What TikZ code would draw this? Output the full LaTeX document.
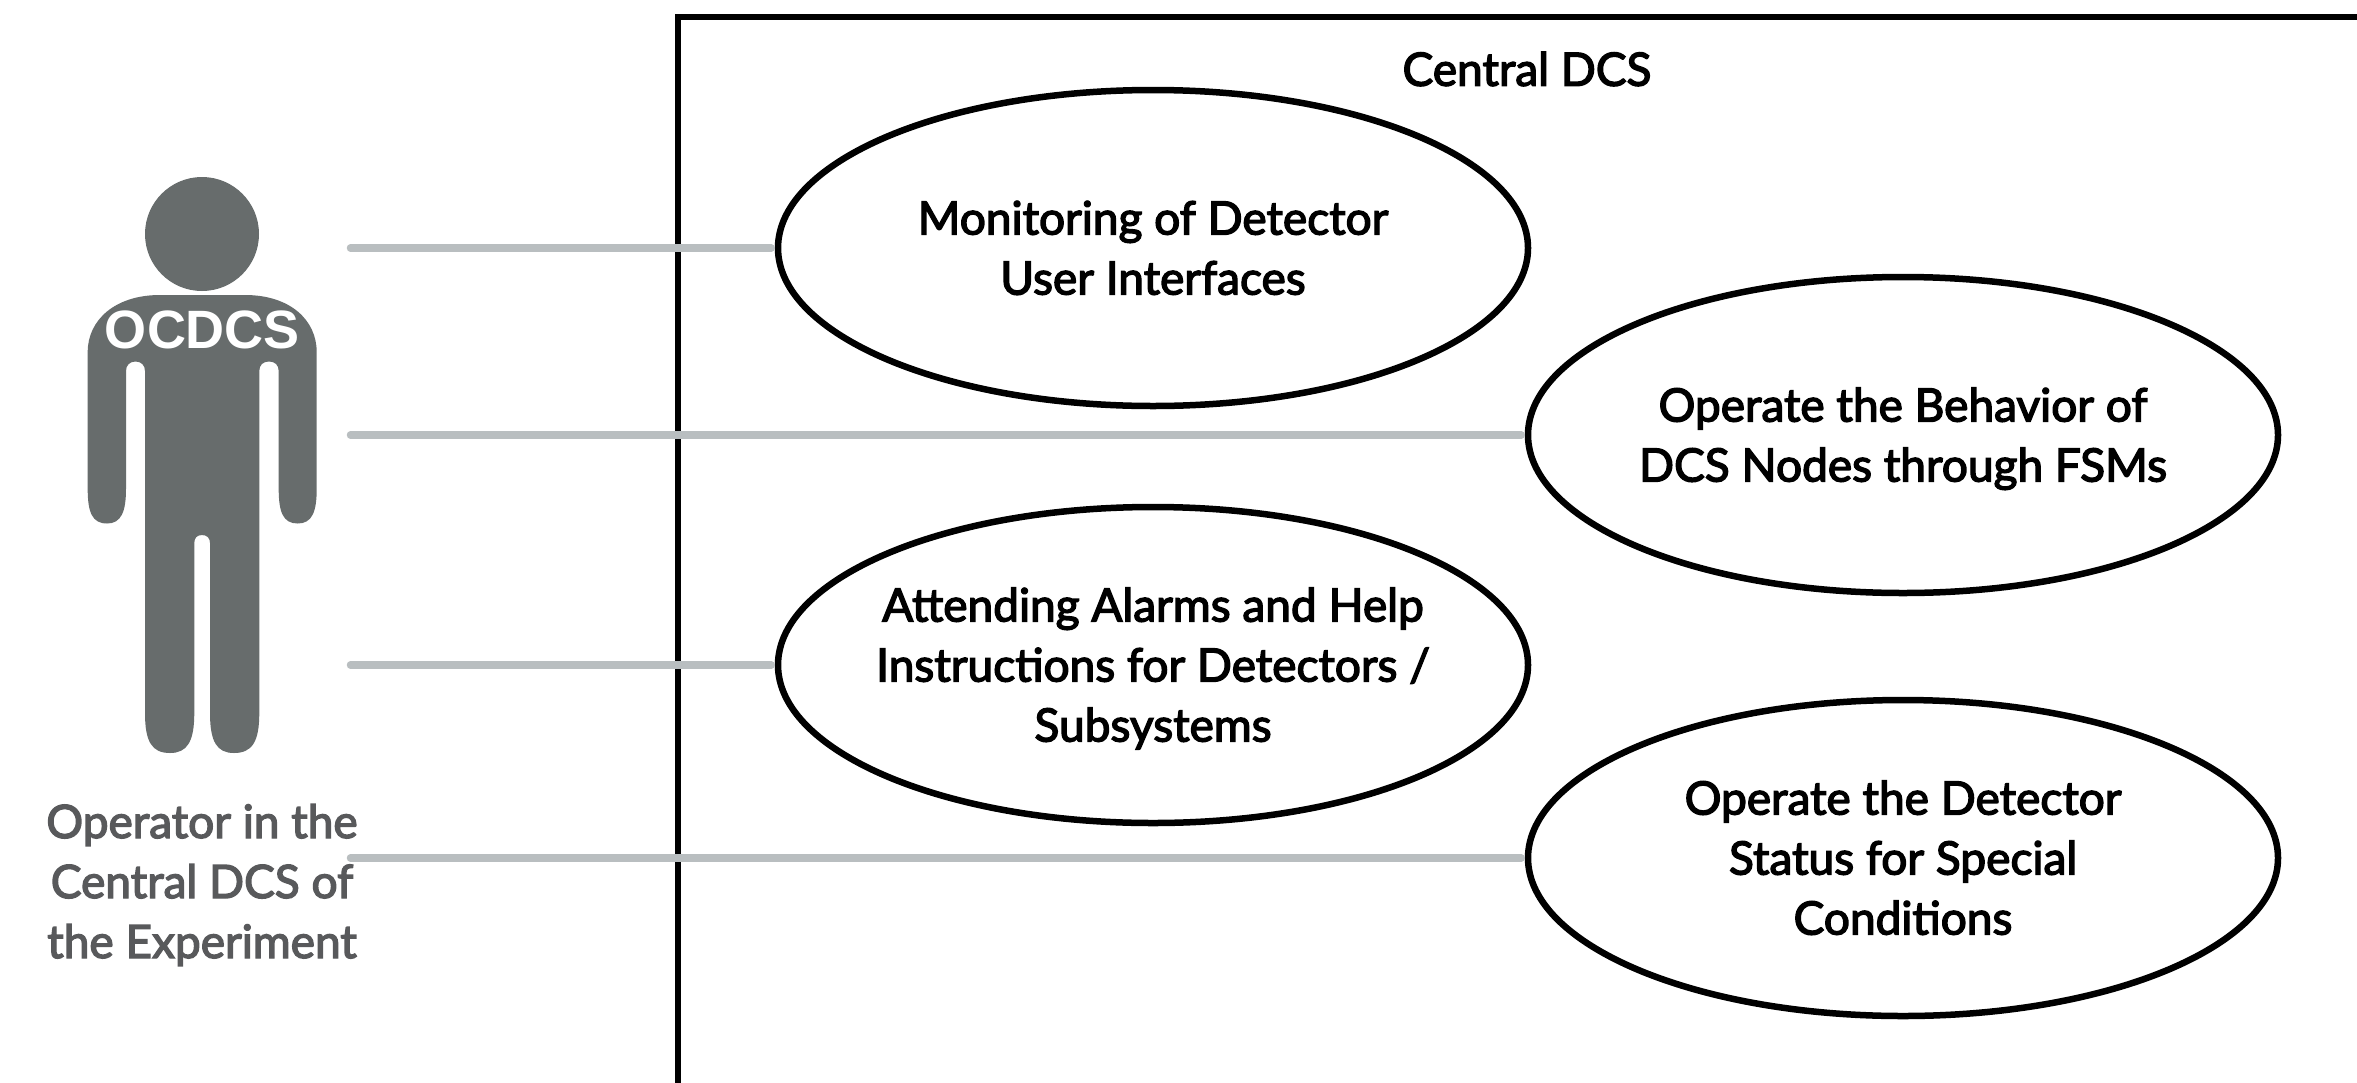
\documentclass[tikz,border=0pt]{standalone}
\usepackage{fontspec}
\setmainfont{Lato}[FakeBold=3]
\newfontfamily\arialb{Liberation Sans Bold}
\usetikzlibrary{shapes.geometric}
\definecolor{figgray}{HTML}{676C6C}
\definecolor{linegray}{HTML}{B9BEC0}
\definecolor{labelgray}{HTML}{58595B}
\newcommand{\lnstrut}{\rule[-9pt]{0pt}{51pt}}
\tikzset{
  usecase/.style={draw=black,line width=6.5pt,fill=white,ellipse,inner ysep=0pt,inner xsep=-15pt,minimum width=750pt,minimum height=316pt,align=center,font=\fontsize{46}{60}\selectfont},
  assoc/.style={draw=linegray,line width=7.5pt,line cap=round,shorten >=3.5pt},
  framebox/.style={draw=black,line width=6pt,line join=miter}
}
\begin{document}
\begin{tikzpicture}[x=1pt,y=-1pt]
\useasboundingbox (0,0) rectangle (2357,1082);
\fill[white] (0,0) rectangle (2357,1082);
\draw[framebox] (678,1090) -- (678,17) -- (2365,17);
% actor
\fill[figgray] (202,234) ellipse [x radius=57,y radius=57];
\fill[figgray] (160,295) -- (245,295)
  .. controls (290,295) and (316.7,320) .. (316.7,352)
  -- (316.7,489) .. controls (316.7,512) and (312,523.5) .. (297.7,523.5)
  .. controls (283,523.5) and (278.7,512) .. (278.7,489)
  -- (278.7,371) .. controls (278.7,365) and (275,361.5) .. (269,361.5)
  .. controls (263,361.5) and (259.3,365) .. (259.3,371)
  -- (259.3,713) .. controls (259.3,742) and (252,753) .. (234,753)
  .. controls (217,753) and (210,742) .. (210,713)
  -- (210,543) .. controls (210,538) and (207,535) .. (202,535)
  .. controls (197,535) and (194.3,538) .. (194.3,543)
  -- (194.3,713) .. controls (194.3,742) and (187,753) .. (170,753)
  .. controls (152,753) and (145,742) .. (145,713)
  -- (145,371) .. controls (145,365) and (141,361.5) .. (135.5,361.5)
  .. controls (130,361.5) and (126,365) .. (126,371)
  -- (126,489) .. controls (126,512) and (121,523.5) .. (107,523.5)
  .. controls (92,523.5) and (87.7,512) .. (87.7,489)
  -- (87.7,352) .. controls (87.7,320) and (115,295) .. (160,295) -- cycle;
\node[text=white,inner sep=0pt,anchor=base,font=\arialb\fontsize{54}{54}\selectfont] (ocdcs) at (202.5,348) {OCDCS};
\node[text=labelgray,inner sep=0pt,anchor=base,align=center,font=\fontsize{46}{60}\selectfont] (oplabel) at (202,958) {Operator in the\\Central DCS of\\the Experiment};
\node[inner sep=0pt,font=\fontsize{46}{60}\selectfont] (central) at (1527,69) {Central DCS};
% free ends of the associations
\coordinate (a1) at (350.5,248);
\coordinate (a2) at (350.5,435);
\coordinate (a3) at (350.5,665);
\coordinate (a4) at (350.5,858);
% use cases
\node[usecase] (uc1) at (1153,248) {\lnstrut Monitoring of Detector\\\lnstrut User Interfaces};
\node[usecase] (uc2) at (1903,435) {\lnstrut Operate the Behavior of\\\lnstrut DCS Nodes through FSMs};
\node[usecase] (uc3) at (1153,665) {\lnstrut Attending Alarms and Help\\\lnstrut Instructions for Detectors /\\\lnstrut Subsystems};
\node[usecase] (uc4) at (1903,858) {\lnstrut Operate the Detector\\\lnstrut Status for Special\\\lnstrut Conditions};
% associations
\draw[assoc] (a1) -- (uc1.west);
\draw[assoc] (a2) -- (uc2.west);
\draw[assoc] (a3) -- (uc3.west);
\draw[assoc] (a4) -- (uc4.west);
\end{tikzpicture}
\end{document}
